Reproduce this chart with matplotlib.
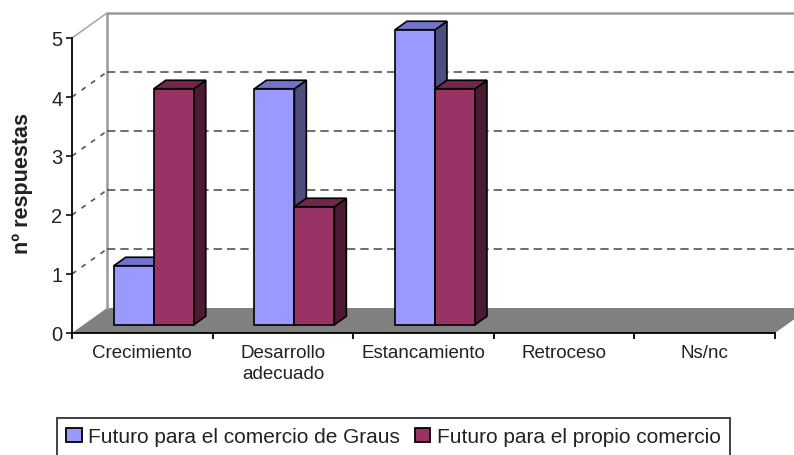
import numpy as np
import matplotlib.pyplot as plt
from matplotlib.patches import Polygon, Patch

plt.rcParams['font.family'] = ['Liberation Sans', 'DejaVu Sans']

# --- Data ---
categories = ['Crecimiento', 'Desarrollo\nadecuado', 'Estancamiento', 'Retroceso', 'Ns/nc']
graus = [1, 4, 5, 0, 0]
propio = [4, 2, 4, 0, 0]
series_names = ['Futuro para el comercio de Graus', 'Futuro para el propio comercio']

# --- Style (Excel-like pseudo 3D) ---
front_cols = ['#9999FF', '#993366']
top_cols = ['#7373CC', '#73264D']
side_cols = ['#4D4D80', '#4D1A33']
DX, DY = 35 / 140.6, 25 / 59.0      # wall depth, in data units
f0, f1 = 0.33, 0.67                 # bar depth range (fraction of wall depth)
bw = 40 / 140.6                     # bar width

fig = plt.figure(figsize=(7.94, 4.56), dpi=100)
ax = fig.add_axes([72 / 794, (456 - 334) / 456, 703 / 794, 295 / 456])
ax.set_xlim(0, 5)
ax.set_ylim(0, 5)
ax.patch.set_visible(False)
for s in ['top', 'right']:
    ax.spines[s].set_visible(False)
ax.spines['left'].set_linewidth(1.3)
ax.spines['bottom'].set_linewidth(1.3)

n = len(categories)

# floor
floor = Polygon([(0, 0), (n, 0), (n + DX, DY), (DX, DY)], closed=True,
                facecolor='#808080', edgecolor='none', zorder=1, clip_on=False)
ax.add_patch(floor)

# back wall border + gridlines, side wall diagonals
ax.plot([DX, DX, n + DX], [DY, 5 + DY, 5 + DY], color='#999999', lw=1.8,
        zorder=1, clip_on=False)
ax.plot([0, DX], [5, 5 + DY], color='#aaaaaa', lw=1.2, zorder=1, clip_on=False)
for v in range(1, 5):
    ax.plot([DX, n + DX], [v + DY, v + DY], color='#555555', lw=1.2,
            ls=(0, (5, 3)), zorder=1, clip_on=False)
    ax.plot([0, DX], [v, v + DY], color='#555555', lw=1.2,
            ls=(0, (3, 4)), zorder=1, clip_on=False)

# bars
bdx, bdy = (f1 - f0) * DX, (f1 - f0) * DY
for i in range(n):
    for s, vals in enumerate([graus, propio]):
        v = vals[i]
        if v == 0:
            continue
        x0 = i + 0.5 - bw + s * bw + f0 * DX
        y0 = f0 * DY
        front = Polygon([(x0, y0), (x0 + bw, y0), (x0 + bw, y0 + v), (x0, y0 + v)],
                        facecolor=front_cols[s], edgecolor='black', lw=1.2, zorder=3)
        top = Polygon([(x0, y0 + v), (x0 + bw, y0 + v), (x0 + bw + bdx, y0 + v + bdy),
                       (x0 + bdx, y0 + v + bdy)],
                      facecolor=top_cols[s], edgecolor='black', lw=1.2, zorder=3)
        side = Polygon([(x0 + bw, y0), (x0 + bw, y0 + v), (x0 + bw + bdx, y0 + v + bdy),
                        (x0 + bw + bdx, y0 + bdy)],
                       facecolor=side_cols[s], edgecolor='black', lw=1.2, zorder=3)
        for p in (side, top, front):
            p.set_clip_on(False)
            ax.add_patch(p)

# axes ticks and labels
ax.set_yticks(range(6))
ax.tick_params(axis='y', length=4, width=1.3, pad=3, labelsize=14.5, colors='#222222')
ax.set_xticks(range(n + 1))
ax.set_xticklabels([])
ax.tick_params(axis='x', which='major', length=4, width=1.3, color='black')
ax.set_xticks(np.arange(n) + 0.5, minor=True)
ax.set_xticklabels(categories, minor=True, fontsize=13.5, color='#222222',
                   linespacing=1.3)
ax.tick_params(axis='x', which='minor', length=0, pad=8)

ax.set_ylabel('nº respuestas', fontsize=15.5, fontweight='bold', color='#222222')
ax.yaxis.set_label_coords(-0.055, 0.51)

handles = [Patch(facecolor=front_cols[k], edgecolor='black', lw=1.3) for k in range(2)]
leg = fig.legend(handles, series_names, loc='upper left',
                 bbox_to_anchor=(57 / 794, 1 - 419 / 456), ncol=2, fontsize=15,
                 frameon=True, fancybox=False, handlelength=0.75, handleheight=0.6,
                 handletextpad=0.3, columnspacing=0.7, borderpad=0.45,
                 borderaxespad=0)
leg.get_frame().set_edgecolor('black')
leg.get_frame().set_linewidth(1.3)
for t in leg.get_texts():
    t.set_color('#222222')

fig.savefig('out.png', dpi=100)
